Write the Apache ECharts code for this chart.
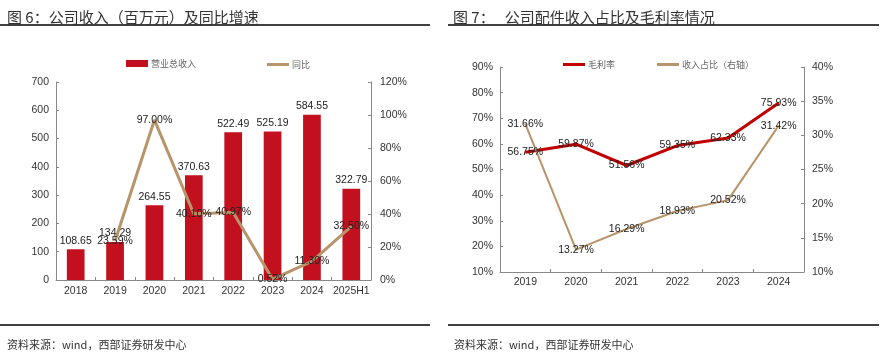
<!DOCTYPE html>
<html lang="zh">
<head>
    <meta charset="UTF-8">
    <title>公司收入及配件收入占比</title>
</head>
<style>
    html, body { margin: 0; padding: 0; background: #fff; }
    #main { width: 890px; height: 354px; }
</style>
<body>
<div id="main"></div>
</body>
<script src="https://cdn.jsdelivr.net/npm/echarts@6/dist/echarts.min.js"></script>
<script>
    // 图6 数据
    var years6 = ['2018', '2019', '2020', '2021', '2022', '2023', '2024', '2025H1'];
    var revenue = [108.65, 134.29, 264.55, 370.63, 522.49, 525.19, 584.55, 322.79];
    var yoy = [null, 23.59, 97.00, 40.10, 40.97, 0.52, 11.30, 32.50];

    // 图7 数据
    var years7 = ['2019', '2020', '2021', '2022', '2023', '2024'];
    var grossMargin = [56.75, 59.87, 51.56, 59.35, 62.33, 75.93];
    var partsShare = [31.66, 13.27, 16.29, 18.93, 20.52, 31.42];

    var RED = '#C3101E';
    var TAN = '#B8946A';
    var NUM_FONT = 'Liberation Sans';
    var CJK_FONT = 'Noto Sans CJK SC';

    var axisLabel = {color: '#333', fontFamily: NUM_FONT, fontSize: 10.5};
    var axisLine = {show: true, lineStyle: {color: '#888', width: 1}};
    var axisTick = {show: true, inside: true, length: 3, lineStyle: {color: '#888'}};

    function pct(p) {
        return p.value == null ? '' : p.value.toFixed(2) + '%';
    }

    var myChart = echarts.init(document.getElementById('main'));

    var option = {
        animation: false,
        backgroundColor: '#fff',
        title: [
            {text: '图 6：公司收入（百万元）及同比增速', left: 2, top: 5,
                textStyle: {fontFamily: CJK_FONT, fontSize: 15, fontWeight: 'normal', color: '#333'}},
            {text: '图 7：   公司配件收入占比及毛利率情况', left: 448, top: 5,
                textStyle: {fontFamily: CJK_FONT, fontSize: 15, fontWeight: 'normal', color: '#333'}},
            {text: '资料来源：wind，西部证券研发中心', left: 2, top: 334,
                textStyle: {fontFamily: CJK_FONT, fontSize: 11, fontWeight: 'normal', color: '#333'}},
            {text: '资料来源：wind，西部证券研发中心', left: 449, top: 334,
                textStyle: {fontFamily: CJK_FONT, fontSize: 11, fontWeight: 'normal', color: '#333'}}
        ],
        graphic: [
            {type: 'line', shape: {x1: 0, y1: 25, x2: 430, y2: 25}, style: {stroke: '#000', lineWidth: 1.5}},
            {type: 'line', shape: {x1: 448, y1: 25, x2: 879, y2: 25}, style: {stroke: '#000', lineWidth: 1.5}},
            {type: 'line', shape: {x1: 0, y1: 325, x2: 430, y2: 325}, style: {stroke: '#000', lineWidth: 1.5}},
            {type: 'line', shape: {x1: 448, y1: 325, x2: 879, y2: 325}, style: {stroke: '#000', lineWidth: 1.5}}
        ],
        legend: [
            {data: [{name: '营业总收入', icon: 'rect'}], left: 121, top: 54, itemWidth: 22, itemHeight: 7, itemGap: 3,
                textStyle: {fontFamily: CJK_FONT, fontSize: 9, color: '#666', padding: [0, 0, 0, -2]}},
            {data: [{name: '同比', icon: 'rect'}], left: 262, top: 55, itemWidth: 22, itemHeight: 3,
                textStyle: {fontFamily: CJK_FONT, fontSize: 9, color: '#666', padding: [0, 0, 0, -2]}},
            {data: [{name: '毛利率', icon: 'rect'}], left: 558, top: 55, itemWidth: 22, itemHeight: 3,
                textStyle: {fontFamily: CJK_FONT, fontSize: 9, color: '#666', padding: [0, 0, 0, -2]}},
            {data: [{name: '收入占比（右轴）', icon: 'rect'}], left: 652, top: 55, itemWidth: 22, itemHeight: 3,
                textStyle: {fontFamily: CJK_FONT, fontSize: 9, color: '#666', padding: [0, 0, 0, -2]}}
        ],
        grid: [
            {left: 56, right: 519, top: 82, bottom: 74},
            {left: 500, right: 86, top: 67, bottom: 82}
        ],
        xAxis: [
            {type: 'category', gridIndex: 0, data: years6, boundaryGap: true,
                axisLine: axisLine, axisTick: axisTick,
                axisLabel: Object.assign({margin: 6, interval: 0}, axisLabel)},
            {type: 'category', gridIndex: 1, data: years7, boundaryGap: true,
                axisLine: axisLine, axisTick: axisTick,
                axisLabel: Object.assign({margin: 5, interval: 0}, axisLabel)}
        ],
        yAxis: [
            {type: 'value', gridIndex: 0, min: 0, max: 700, interval: 100, splitLine: {show: false},
                axisLine: axisLine, axisTick: axisTick, axisLabel: Object.assign({margin: 7}, axisLabel)},
            {type: 'value', gridIndex: 0, position: 'right', min: 0, max: 120, interval: 20, splitLine: {show: false},
                axisLine: axisLine, axisTick: axisTick,
                axisLabel: Object.assign({margin: 9, formatter: '{value}%'}, axisLabel)},
            {type: 'value', gridIndex: 1, min: 10, max: 90, interval: 10, splitLine: {show: false},
                axisLine: axisLine, axisTick: axisTick,
                axisLabel: Object.assign({margin: 7, formatter: '{value}%'}, axisLabel)},
            {type: 'value', gridIndex: 1, position: 'right', min: 10, max: 40, interval: 5, splitLine: {show: false},
                axisLine: axisLine, axisTick: axisTick,
                axisLabel: Object.assign({margin: 8, formatter: '{value}%'}, axisLabel)}
        ],
        series: [
            {
                name: '营业总收入', type: 'bar', xAxisIndex: 0, yAxisIndex: 0,
                data: revenue, barWidth: '45%',
                itemStyle: {color: RED},
                label: {show: true, position: 'top', distance: 3, color: '#222',
                    fontFamily: NUM_FONT, fontSize: 10.5,
                    formatter: function (p) { return p.value.toFixed(2); }}
            },
            {
                name: '同比', type: 'line', xAxisIndex: 0, yAxisIndex: 1,
                data: yoy, symbol: 'circle', symbolSize: 1, showSymbol: true,
                lineStyle: {color: TAN, width: 3}, itemStyle: {color: TAN},
                label: {show: true, position: 'inside', color: '#222',
                    fontFamily: NUM_FONT, fontSize: 10.5, formatter: pct}
            },
            {
                name: '毛利率', type: 'line', xAxisIndex: 1, yAxisIndex: 2,
                data: grossMargin, symbol: 'circle', symbolSize: 1, showSymbol: true,
                lineStyle: {color: '#C00000', width: 3}, itemStyle: {color: '#C00000'},
                label: {show: true, position: 'inside', color: '#222',
                    fontFamily: NUM_FONT, fontSize: 10.5, formatter: pct}
            },
            {
                name: '收入占比（右轴）', type: 'line', xAxisIndex: 1, yAxisIndex: 3,
                data: partsShare, symbol: 'circle', symbolSize: 1, showSymbol: true,
                lineStyle: {color: TAN, width: 2}, itemStyle: {color: TAN},
                label: {show: true, position: 'inside', color: '#222',
                    fontFamily: NUM_FONT, fontSize: 10.5, formatter: pct}
            }
        ]
    };

    myChart.setOption(option);
</script>
</html>
